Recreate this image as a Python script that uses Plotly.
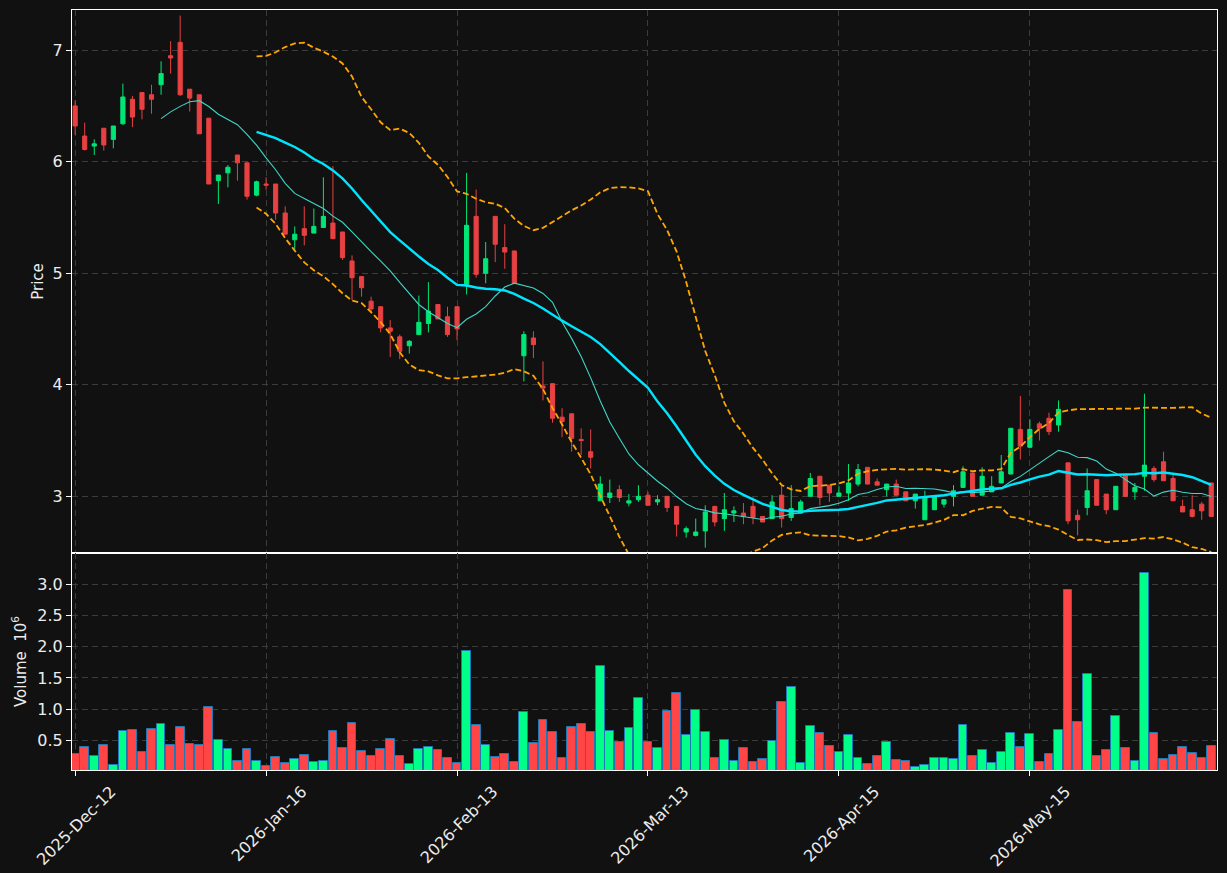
import plotly.graph_objects as go
import pandas as pd

# ---------------- data ----------------
opens = [6.50, 6.23, 6.14, 6.30, 6.20, 6.34, 6.56, 6.62, 6.60, 6.69,
         6.95, 7.07, 6.65, 6.60, 6.39, 5.83, 5.90, 6.06, 5.99, 5.70,
         5.80, 5.80, 5.54, 5.30, 5.40, 5.36, 5.41, 5.45, 5.37, 5.11,
         4.97, 4.75, 4.70, 4.51, 4.43, 4.35, 4.45, 4.55, 4.72, 4.61,
         4.70, 4.90, 5.51, 5.00, 5.51, 5.23, 5.20, 4.26, 4.42, 3.99,
         4.01, 3.71, 3.74, 3.51, 3.40, 2.96, 2.99, 3.06, 2.94, 2.97,
         3.01, 2.95, 3.00, 2.91, 2.68, 2.65, 2.69, 2.91, 2.80, 2.85,
         2.85, 2.91, 2.82, 2.80, 3.01, 2.81, 2.85, 3.00, 3.18, 3.10,
         3.00, 3.03, 3.11, 3.26, 3.13, 3.06, 3.11, 3.04, 2.96, 2.79,
         2.88, 2.93, 3.00, 3.08, 3.21, 3.01, 3.04, 3.12, 3.20, 3.60,
         3.44, 3.65, 3.70, 3.64, 3.30, 2.83, 2.90, 3.15, 3.02, 2.88,
         3.19, 3.04, 3.18, 3.25, 3.31, 3.16, 2.91, 2.88, 2.93, 3.12]
highs = [6.55, 6.35, 6.20, 6.30, 6.32, 6.70, 6.59, 6.62, 6.69, 6.90,
         7.08, 7.31, 6.65, 6.60, 6.39, 5.88, 5.97, 6.06, 5.99, 5.83,
         5.86, 5.80, 5.60, 5.42, 5.60, 5.58, 5.86, 5.96, 5.37, 5.16,
         4.97, 4.79, 4.70, 4.58, 4.45, 4.40, 4.80, 4.92, 4.72, 4.70,
         4.70, 5.90, 5.75, 5.28, 5.51, 5.44, 5.20, 4.48, 4.48, 4.21,
         4.01, 3.79, 3.74, 3.61, 3.60, 3.18, 3.15, 3.10, 3.02, 3.10,
         3.04, 3.01, 3.00, 2.91, 2.73, 2.80, 2.92, 2.91, 3.03, 2.91,
         2.94, 2.99, 2.82, 3.01, 3.10, 3.10, 2.97, 3.21, 3.18, 3.10,
         3.09, 3.29, 3.29, 3.26, 3.16, 3.11, 3.15, 3.04, 3.02, 3.05,
         3.00, 2.97, 3.10, 3.27, 3.21, 3.26, 3.18, 3.37, 3.61, 3.90,
         3.69, 3.67, 3.75, 3.86, 3.30, 2.88, 3.25, 3.15, 3.02, 3.09,
         3.19, 3.12, 3.92, 3.27, 3.40, 3.20, 2.97, 3.01, 2.95, 3.12]
lows = [6.24, 6.10, 6.06, 6.10, 6.12, 6.33, 6.31, 6.38, 6.43, 6.60,
        6.79, 6.59, 6.45, 6.25, 5.80, 5.62, 5.77, 5.83, 5.66, 5.69,
        5.75, 5.48, 5.35, 5.21, 5.25, 5.36, 5.41, 5.31, 5.12, 4.76,
        4.79, 4.64, 4.47, 4.25, 4.23, 4.28, 4.45, 4.47, 4.59, 4.43,
        4.40, 4.81, 4.96, 4.91, 5.10, 5.04, 4.91, 4.03, 4.24, 3.86,
        3.66, 3.53, 3.40, 3.37, 3.25, 2.96, 2.94, 2.95, 2.91, 2.95,
        2.92, 2.92, 2.86, 2.64, 2.63, 2.64, 2.54, 2.73, 2.69, 2.77,
        2.75, 2.75, 2.77, 2.80, 2.72, 2.78, 2.85, 3.00, 2.92, 2.95,
        3.00, 2.96, 3.09, 3.11, 3.10, 3.00, 3.01, 2.96, 2.89, 2.79,
        2.88, 2.90, 2.91, 3.08, 3.00, 3.01, 3.04, 3.12, 3.20, 3.33,
        3.43, 3.50, 3.55, 3.58, 2.75, 2.65, 2.83, 2.92, 2.84, 2.88,
        3.00, 2.97, 3.05, 3.13, 3.14, 2.96, 2.86, 2.81, 2.79, 2.82]
closes = [6.32, 6.11, 6.16, 6.15, 6.32, 6.58, 6.40, 6.47, 6.56, 6.79,
          6.93, 6.60, 6.57, 6.25, 5.80, 5.88, 5.95, 5.99, 5.69, 5.82,
          5.79, 5.54, 5.35, 5.35, 5.34, 5.42, 5.51, 5.31, 5.14, 4.96,
          4.87, 4.68, 4.51, 4.48, 4.30, 4.39, 4.56, 4.66, 4.59, 4.45,
          4.50, 5.43, 4.99, 5.13, 5.26, 5.19, 4.91, 4.45, 4.36, 3.97,
          3.70, 3.67, 3.52, 3.50, 3.35, 3.11, 3.03, 2.99, 2.96, 3.00,
          2.92, 2.97, 2.90, 2.75, 2.71, 2.68, 2.86, 2.77, 2.88, 2.87,
          2.82, 2.81, 2.77, 2.95, 2.80, 2.89, 2.95, 3.16, 2.99, 3.03,
          3.03, 3.12, 3.24, 3.11, 3.10, 3.11, 3.01, 2.96, 3.02, 2.99,
          3.00, 2.97, 3.05, 3.22, 3.00, 3.18, 3.09, 3.22, 3.61, 3.45,
          3.60, 3.61, 3.58, 3.78, 2.78, 2.79, 3.05, 2.92, 2.88, 3.09,
          3.00, 3.08, 3.28, 3.15, 3.14, 2.96, 2.86, 2.82, 2.87, 2.82]
volumes_m = [0.276, 0.388, 0.244, 0.420, 0.100, 0.644, 0.660, 0.308, 0.676, 0.756,
             0.420, 0.708, 0.436, 0.420, 1.029, 0.500, 0.356, 0.163, 0.356, 0.163,
             0.083, 0.228, 0.131, 0.196, 0.260, 0.147, 0.163, 0.644, 0.372, 0.772,
             0.324, 0.244, 0.356, 0.516, 0.244, 0.115, 0.356, 0.388, 0.340, 0.212,
             0.131, 1.926, 0.740, 0.420, 0.228, 0.276, 0.147, 0.959, 0.452, 0.820,
             0.628, 0.212, 0.708, 0.756, 0.628, 1.686, 0.644, 0.468, 0.692, 1.173,
             0.468, 0.372, 0.965, 1.253, 0.580, 0.981, 0.628, 0.212, 0.500, 0.163,
             0.372, 0.147, 0.196, 0.484, 1.109, 1.349, 0.131, 0.724, 0.612, 0.404,
             0.308, 0.580, 0.212, 0.115, 0.244, 0.468, 0.180, 0.163, 0.078, 0.100,
             0.212, 0.212, 0.196, 0.740, 0.244, 0.340, 0.131, 0.308, 0.612, 0.388,
             0.596, 0.147, 0.276, 0.660, 2.904, 0.788, 1.558, 0.244, 0.340, 0.885,
             0.372, 0.163, 3.176, 0.612, 0.196, 0.260, 0.388, 0.292, 0.212, 0.404]
tick_labels = ["2025-Dec-12", "2026-Jan-16", "2026-Feb-13",
               "2026-Mar-13", "2026-Apr-15", "2026-May-15"]
price_ticks = [3, 4, 5, 6, 7]
volume_ticks = [0.5, 1.0, 1.5, 2.0, 2.5, 3.0]

# ---------------- derived series ----------------
n = len(closes)
idx = list(range(n))
tick_step = 20
tick_pos = [i * tick_step for i in range(len(tick_labels))]

s = pd.Series(closes)
sma10 = s.rolling(10).mean()
sma20 = s.rolling(20).mean()
std20 = s.rolling(20).std(ddof=0)
bb_up = sma20 + 2 * std20
bb_lo = sma20 - 2 * std20

UP_C, DN_C = "#00e676", "#e84142"
VUP_C, VDN_C = "#00ff88", "#ff4545"
vol_colors = [VUP_C if c >= o else VDN_C for o, c in zip(opens, closes)]

fig = go.Figure()
fig.add_trace(go.Candlestick(
    x=idx, open=opens, high=highs, low=lows, close=closes,
    increasing=dict(line=dict(color=UP_C, width=1), fillcolor=UP_C),
    decreasing=dict(line=dict(color=DN_C, width=1), fillcolor=DN_C),
    whiskerwidth=0, xaxis="x", yaxis="y", hoverinfo="skip", showlegend=False))
fig.add_trace(go.Scatter(x=idx, y=sma10, mode="lines",
                         line=dict(color="#3fd6c8", width=1.1),
                         xaxis="x", yaxis="y", hoverinfo="skip"))
fig.add_trace(go.Scatter(x=idx, y=sma20, mode="lines",
                         line=dict(color="#00e5ff", width=2.4),
                         xaxis="x", yaxis="y", hoverinfo="skip"))
for band in (bb_up, bb_lo):
    fig.add_trace(go.Scatter(x=idx, y=band, mode="lines",
                             line=dict(color="#ffa500", width=1.8, dash="6px,3px"),
                             xaxis="x", yaxis="y", hoverinfo="skip"))
fig.add_trace(go.Bar(x=idx, y=volumes_m, width=0.92,
                     marker=dict(color=vol_colors, line=dict(color="#1f77b4", width=1)),
                     xaxis="x2", yaxis="y2", hoverinfo="skip"))

GRID = "#3c3c3c"
FONT = "DejaVu Sans"
TXT = "#ececec"
xrange = [-0.33, 119.6]
split = 1 - 543 / 760

common_x = dict(range=xrange, autorange=False, tickvals=tick_pos, showgrid=True,
                gridcolor=GRID, griddash="6px,4px", gridwidth=1, showline=True,
                mirror=True, linecolor="white", linewidth=1, zeroline=False,
                automargin=False)
common_y = dict(showgrid=True, gridcolor=GRID, griddash="6px,4px", gridwidth=1,
                showline=True, mirror=True, linecolor="white", linewidth=1,
                zeroline=False, ticks="outside", ticklen=5, tickcolor="white",
                automargin=False, autorange=False,
                tickfont=dict(family=FONT, size=16, color=TXT))

fig.update_layout(
    width=1227, height=873,
    paper_bgcolor="#111111", plot_bgcolor="#111111",
    margin=dict(l=72, r=10, t=10, b=103, autoexpand=False),
    showlegend=False, boxgap=0.38, bargap=0,
    font=dict(family=FONT, color=TXT),
    xaxis=dict(common_x, domain=[0, 1], anchor="y", matches="x2",
               showticklabels=False, ticks="", rangeslider=dict(visible=False)),
    xaxis2=dict(common_x, domain=[0, 1], anchor="y2", ticktext=tick_labels,
                tickangle=-45, ticks="outside", ticklen=5, tickcolor="white",
                ticklabelshift=36, ticklabeloverflow="allow",
                tickfont=dict(family=FONT, size=16, color=TXT)),
    yaxis=dict(common_y, domain=[split, 1], anchor="x", range=[2.492, 7.36],
               tickvals=price_ticks,
               title=dict(text="Price", standoff=5,
                          font=dict(family=FONT, size=15, color=TXT))),
    yaxis2=dict(common_y, domain=[0, split], anchor="x2", range=[0.024, 3.502],
                tickvals=volume_ticks, ticktext=[f"{v:.1f}" for v in volume_ticks],
                title=dict(text="Volume  10<sup>6</sup>", standoff=7,
                           font=dict(family=FONT, size=15, color=TXT))),
)

fig.write_html("out.html")
